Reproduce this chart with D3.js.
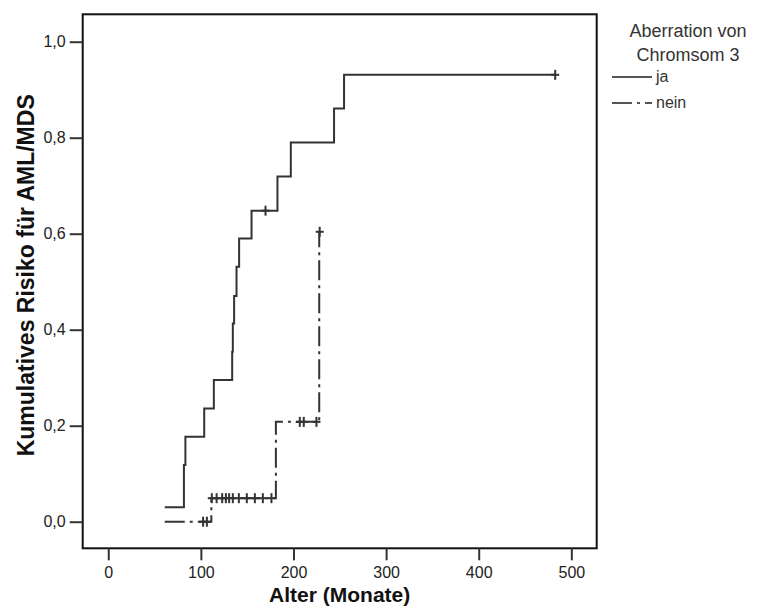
<!DOCTYPE html>
<html>
<head>
<meta charset="utf-8">
<script src="https://cdn.jsdelivr.net/npm/d3@7"></script>
<style>
  html, body { margin: 0; padding: 0; background: #fff; }
  svg { display: block; }
  text { font-family: "Liberation Sans", Arial, sans-serif; }
</style>
</head>
<body>
<svg id="chart" width="759" height="612"></svg>
<script>
// Cumulative incidence of AML/MDS by age (months), split by chromosome 3 aberration.

// Group "ja": step times (months) and cumulative risk after each step
const jaTimes  = [61, 81.7, 83.3, 103.6, 114, 133.8, 134.5, 135.9, 138.5, 141.3, 154.7, 182.7, 197.1, 243.8, 254.6, 482.6];
const jaRisk   = [0.03, 0.118, 0.177, 0.236, 0.295, 0.354, 0.413, 0.47, 0.531, 0.59, 0.648, 0.719, 0.79, 0.861, 0.931, 0.931];
const jaCensor = [169.8, 482.6];

// Group "nein"
const neinTimes  = [61, 111.3, 181, 227.8, 228.3];
const neinRisk   = [0, 0.049, 0.208, 0.604, 0.604];
const neinCensor = [102.4, 106.5, 111.8, 117, 123, 127, 130.5, 134.5, 141, 149.6, 158.3, 166.9, 176.2, 206.8, 211.1, 224.8, 228.3];

// Axis ticks
const xTicks = [0, 100, 200, 300, 400, 500];
const xTickLabels = ["0", "100", "200", "300", "400", "500"];
const yTicks = [0, 0.2, 0.4, 0.6, 0.8, 1.0];
const yTickLabels = ["0,0", "0,2", "0,4", "0,6", "0,8", "1,0"];

const legendTitle = ["Aberration von", "Chromsom 3"];
const groupNames = ["ja", "nein"];

const frame = { left: 82.7, right: 596.7, top: 14.3, bottom: 548.3 };

const x = d3.scaleLinear().domain([-27.6, 527.4]).range([frame.left, frame.right]);
const y = d3.scaleLinear().domain([-0.0554, 1.0571]).range([frame.bottom, frame.top]);

const svg = d3.select("#chart");
const ink = "#333";

// Step function value at time t
function riskAt(times, risks, t) {
  let v = risks[0];
  for (let i = 0; i < times.length; i++) { if (times[i] <= t) v = risks[i]; }
  return v;
}

const stepLine = d3.line().x(d => x(d[0])).y(d => y(d[1])).curve(d3.curveStepAfter);

function drawGroup(times, risks, censors, dash) {
  const pts = times.map((t, i) => [t, risks[i]]);
  svg.append("path")
    .attr("d", stepLine(pts))
    .attr("fill", "none")
    .attr("stroke", ink)
    .attr("stroke-width", 2)
    .attr("stroke-dasharray", dash);
  const g = svg.append("g");
  censors.forEach(t => {
    const cx = x(t), cy = y(riskAt(times, risks, t));
    g.append("line").attr("x1", cx).attr("x2", cx).attr("y1", cy - 5).attr("y2", cy + 5)
      .attr("stroke", ink).attr("stroke-width", 2);
    g.append("line").attr("x1", cx - 4).attr("x2", cx + 4).attr("y1", cy).attr("y2", cy)
      .attr("stroke", ink).attr("stroke-width", 2);
  });
}

drawGroup(jaTimes, jaRisk, jaCensor, null);
drawGroup(neinTimes, neinRisk, neinCensor, "20,5,3,5");

// Plot frame
svg.append("rect")
  .attr("x", frame.left).attr("y", frame.top)
  .attr("width", frame.right - frame.left).attr("height", frame.bottom - frame.top)
  .attr("fill", "none").attr("stroke", "#111").attr("stroke-width", 2);

// X axis
const xAxis = d3.axisBottom(x).tickValues(xTicks).tickSize(12).tickPadding(6)
  .tickFormat((d, i) => xTickLabels[i]);
const gx = svg.append("g").attr("transform", `translate(0,${frame.bottom})`).call(xAxis);
gx.select(".domain").remove();
gx.selectAll(".tick line").attr("stroke", ink).attr("stroke-width", 2);
gx.selectAll(".tick text").attr("fill", "#222").style("font-size", "16px")
  .style("font-family", "'Liberation Sans', Arial, sans-serif");

// Y axis
const yAxis = d3.axisLeft(y).tickValues(yTicks).tickSize(13).tickPadding(4)
  .tickFormat((d, i) => yTickLabels[i]);
const gy = svg.append("g").attr("transform", `translate(${frame.left},0)`).call(yAxis);
gy.select(".domain").remove();
gy.selectAll(".tick line").attr("stroke", ink).attr("stroke-width", 2);
gy.selectAll(".tick text").attr("fill", "#222").style("font-size", "16px")
  .style("font-family", "'Liberation Sans', Arial, sans-serif");

// Axis titles
svg.append("text")
  .attr("x", (frame.left + frame.right) / 2).attr("y", 602)
  .attr("text-anchor", "middle")
  .style("font-size", "21px").style("font-weight", "bold").attr("fill", "#111")
  .text("Alter (Monate)");

svg.append("text")
  .attr("transform", `translate(34,${(frame.top + frame.bottom) / 2 - 6}) rotate(-90)`)
  .attr("text-anchor", "middle")
  .style("font-size", "23px").style("font-weight", "bold").attr("fill", "#111")
  .text("Kumulatives Risiko für AML/MDS");

// Legend
const lg = svg.append("g");
legendTitle.forEach((t, i) => {
  lg.append("text").attr("x", 688).attr("y", 37 + i * 24)
    .attr("text-anchor", "middle").style("font-size", "18px").attr("fill", "#333")
    .text(t);
});
const legendDash = [null, "20,5,3,5"];
groupNames.forEach((name, i) => {
  const ly = 77 + i * 26;
  lg.append("line").attr("x1", 612).attr("x2", 652).attr("y1", ly).attr("y2", ly)
    .attr("stroke", "#555").attr("stroke-width", 2).attr("stroke-dasharray", legendDash[i]);
  lg.append("text").attr("x", 656).attr("y", ly + 5)
    .style("font-size", "16px").attr("fill", "#333").text(name);
});
</script>
</body>
</html>
